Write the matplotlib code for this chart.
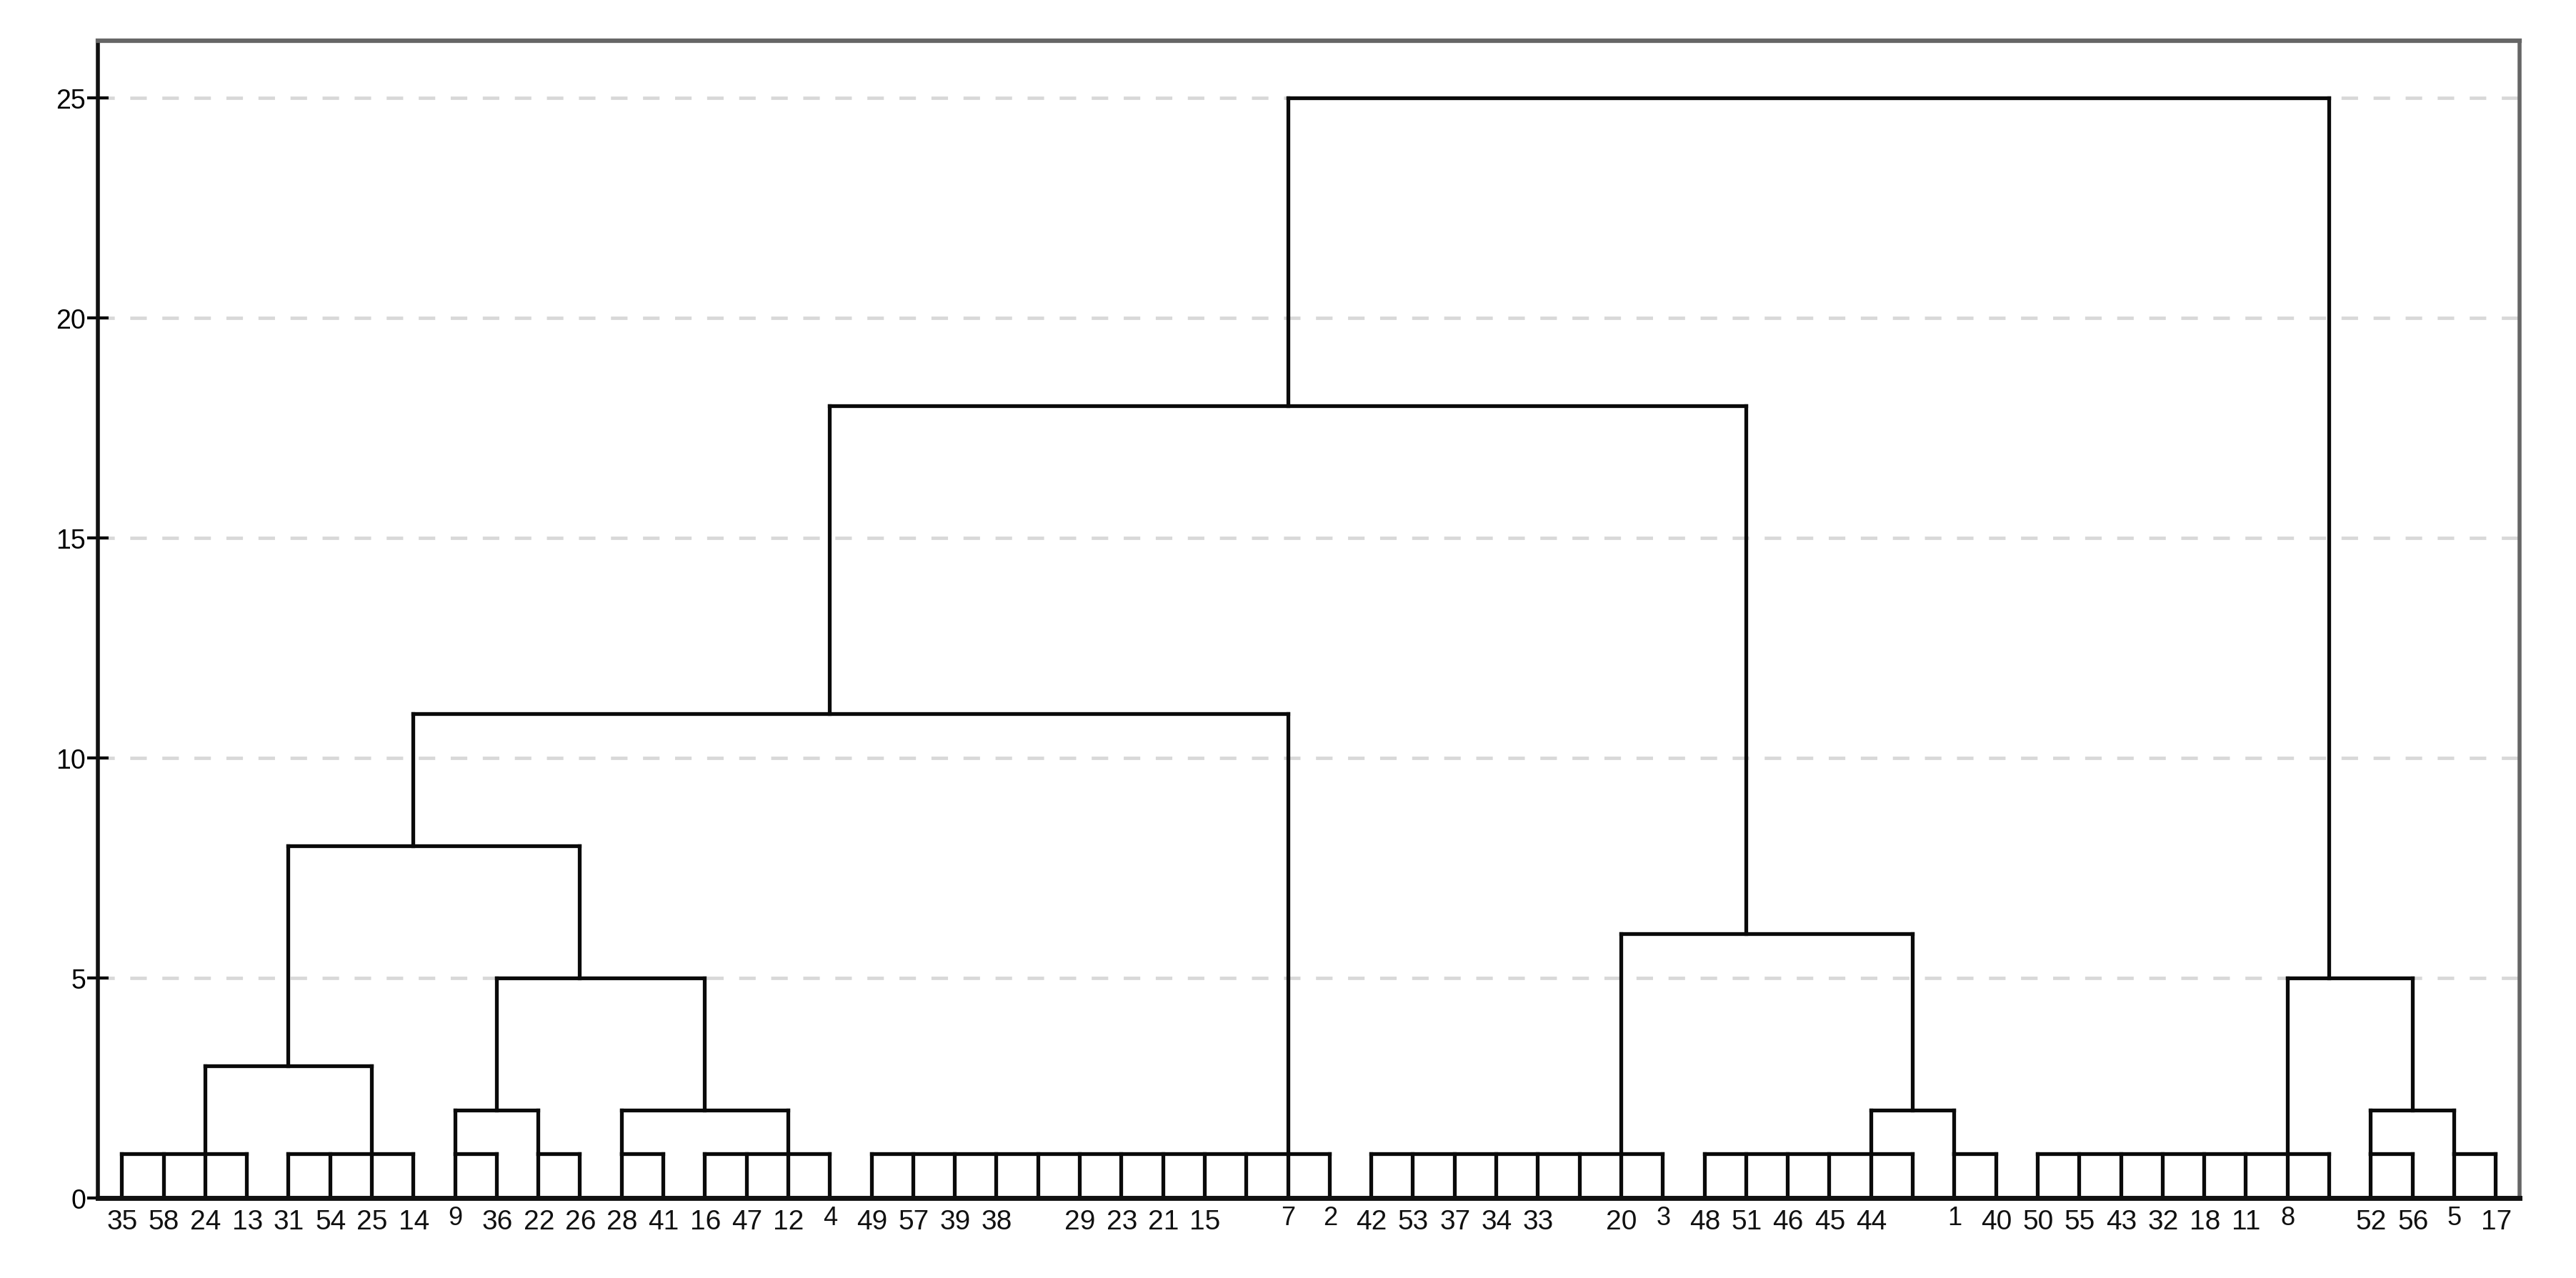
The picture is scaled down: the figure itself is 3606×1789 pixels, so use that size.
import matplotlib
matplotlib.use("Agg")
import matplotlib.pyplot as plt

# ---------------- data ----------------
leaf_labels = ["35", "58", "24", "13", "31", "54", "25", "14",
               "9", "36", "22", "26",
               "28", "41", "16", "47", "12", "4",
               "49", "57", "39", "38", "", "29", "23", "21", "15", "", "7", "2",
               "42", "53", "37", "34", "33", "", "20", "3",
               "48", "51", "46", "45", "44", "",
               "1", "40",
               "50", "55", "43", "32", "18", "11", "8", "",
               "52", "56", "5", "17"]

# leaf groups joined at the first level (leaf index ranges)
group_names = ["A", "B", "C", "D", "E", "F", "G", "H", "I", "J", "K", "L", "M"]
group_first = [0, 4, 8, 10, 12, 14, 18, 30, 38, 44, 46, 54, 56]
group_last = [3, 7, 9, 11, 13, 17, 29, 37, 43, 45, 53, 55, 57]
group_anchor = [2, 6, 8, 10, 12, 16, 28, 36, 42, 44, 52, 54, 56]
group_height = 1

# higher merges
merge_names = ["AB", "CD", "EF", "CDEF", "N8", "N11", "IJ", "N6", "N18", "LM", "N5", "ROOT"]
merge_left = ["A", "C", "E", "CD", "AB", "N8", "I", "H", "N11", "L", "K", "N18"]
merge_right = ["B", "D", "F", "EF", "CDEF", "G", "J", "IJ", "N6", "M", "LM", "N5"]
merge_height = [3, 2, 2, 5, 8, 11, 2, 6, 18, 2, 5, 25]
merge_anchor = [4, 9, 14, 11, 7, 17, 43, 39, 28, 55, 53, 28]

y_ticks = [0, 5, 10, 15, 20, 25]

# ---------------- figure ----------------
plt.rcParams["font.family"] = ["Liberation Sans", "DejaVu Sans"]

fig = plt.figure(figsize=(36.06, 17.90), dpi=100)
ax = fig.add_axes([0.03799, 0.06257, 0.94010, 0.90503])

line_kw = dict(color="#0a0a0a", linewidth=3.8, solid_capstyle="projecting", zorder=3)

node_anchor = {}
node_height = {}
for name, a, b, anc in zip(group_names, group_first, group_last, group_anchor):
    node_anchor[name] = anc
    node_height[name] = group_height
    for leaf in range(a, b + 1):
        ax.plot([leaf, leaf], [0, group_height], **line_kw)
    ax.plot([a, b], [group_height, group_height], **line_kw)

for name, l, r, h, anc in zip(merge_names, merge_left, merge_right, merge_height, merge_anchor):
    xl, xr = node_anchor[l], node_anchor[r]
    ax.plot([xl, xl], [node_height[l], h], **line_kw)
    ax.plot([xr, xr], [node_height[r], h], **line_kw)
    ax.plot([min(xl, xr), max(xl, xr)], [h, h], **line_kw)
    node_anchor[name] = anc
    node_height[name] = h

# axes styling
n_leaves = len(leaf_labels)
ax.set_xlim(-0.57, n_leaves - 1 + 0.58)
ax.set_ylim(0, 26.3)
ax.set_xticks([])
ax.set_yticks(y_ticks)
ax.set_yticklabels([str(t) for t in y_ticks], fontsize=27)
ax.tick_params(axis="y", direction="inout", length=22, width=3.0, color="black", pad=1)

ax.set_axisbelow(True)
ax.grid(axis="y", color="#d8d8d8", linewidth=3.4, linestyle=(0, (4.9, 4.6)))

for side in ["left", "bottom"]:
    ax.spines[side].set_color("#111111")
for side in ["top", "right"]:
    ax.spines[side].set_color("#666666")
ax.spines["left"].set_linewidth(4.0)
ax.spines["bottom"].set_linewidth(5.0)
ax.spines["top"].set_linewidth(4.5)
ax.spines["right"].set_linewidth(4.0)
for s in ax.spines.values():
    s.set_zorder(4)

# leaf labels
for i, lab in enumerate(leaf_labels):
    if not lab:
        continue
    single = len(lab) == 1
    ax.annotate(lab, xy=(i, 0), xycoords=("data", "axes fraction"),
                xytext=(0.8, -7.0 if single else -11.0), textcoords="offset points",
                ha="center", va="top", fontsize=26 if single else 28,
                color="#111111", annotation_clip=False)

fig.savefig("out.png", dpi=100, facecolor="white")
